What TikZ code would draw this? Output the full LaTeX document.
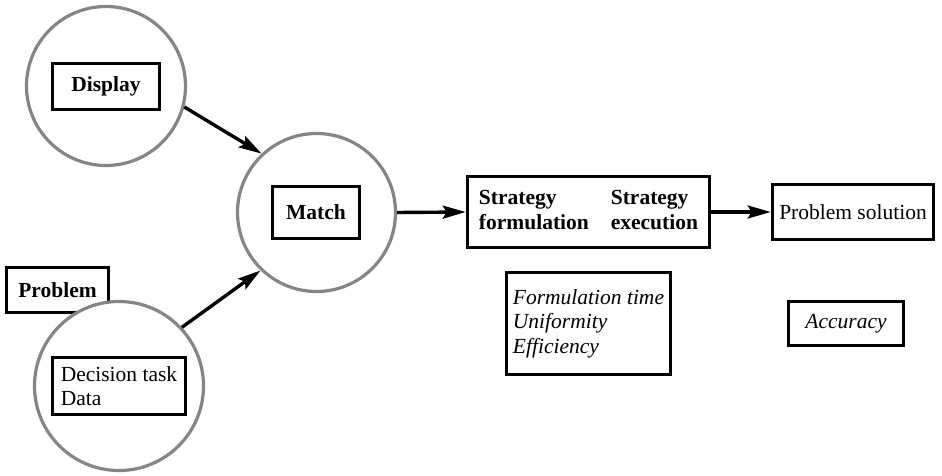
\documentclass[tikz,border=0pt]{standalone}
\usepackage{fontspec}
\setmainfont{Liberation Serif}
\usetikzlibrary{arrows.meta}
\tikzset{
  circ/.style={circle, draw=black!48, line width=3.2pt, fill=white, inner sep=0pt},
  box/.style={rectangle, draw=black, line width=3.6pt, fill=white, inner sep=0pt, align=left,
              font=\fontsize{21.5}{24.5}\selectfont},
  bbox/.style={box, font=\fontsize{21.5}{24.5}\selectfont\bfseries},
  ibox/.style={box, font=\fontsize{21.5}{24.5}\selectfont\itshape},
  arr/.style={line width=3.4pt, -{Stealth[length=23pt, width=13pt, inset=4pt]}}
}
\begin{document}
\begin{tikzpicture}[x=1pt, y=-1pt]
\path[use as bounding box] (0,0) rectangle (942,476);
% left circles
\node[circ, minimum size=159pt] (disp) at (106,86) {};
\node[bbox, minimum width=107pt, minimum height=46pt] (dispbox) at (106,86.5) {Display};
\node[circ, minimum size=158pt] (match) at (316.5,212.5) {};
\node[bbox, minimum width=87pt, minimum height=52pt] (matchbox) at (316,212.5) {Match};
\node[bbox, minimum width=102pt, minimum height=45pt] (prob) at (57.5,290) {Problem};
\node[circ, minimum size=169pt] (dec) at (119,386) {};
\node[box, minimum width=133pt, minimum height=57pt] (decbox) at (119,386) {Decision task\\Data};
% right boxes
\node[bbox, minimum width=242pt, minimum height=71pt] (strat) at (588.5,212)
  {\begin{tabular}{@{}l@{\hspace{22pt}}l@{}}Strategy & Strategy\\ formulation & execution\end{tabular}};
\node[box, minimum width=161pt, minimum height=55pt] (sol) at (853,212) {Problem solution};
\node[ibox, minimum width=164pt, minimum height=102pt] (form) at (588.5,323.5)
  {Formulation time\\Uniformity\\Efficiency};
\node[ibox, minimum width=115pt, minimum height=44pt] (acc) at (846,323.5) {Accuracy};
% connectors
\draw[arr] (disp.-15) -- (match.133);
\draw[arr] (dec.43) -- (match.226);
\draw[arr] (match.east) -- (strat.west);
\draw[arr] (strat.east) -- (sol.west);
\end{tikzpicture}
\end{document}
